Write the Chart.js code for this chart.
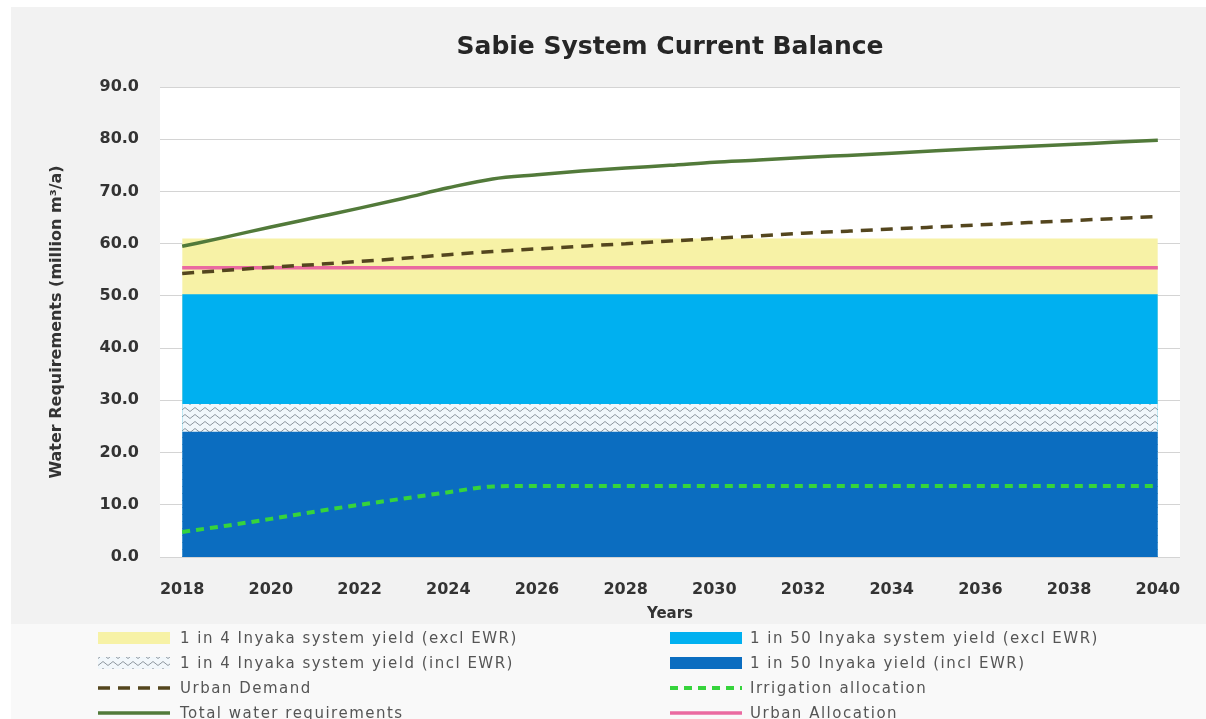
<!DOCTYPE html>
<html>
<head>
<meta charset="utf-8">
<script src="https://cdn.jsdelivr.net/npm/chart.js@4.4.1/dist/chart.umd.min.js"></script>
<style>
html,body{margin:0;padding:0;background:#fff;}
#wrap{position:relative;width:1206px;height:719px;overflow:hidden;}
#c{position:absolute;left:0;top:0;}
.lg{position:absolute;height:20px;display:flex;align-items:center;font-family:"DejaVu Sans",sans-serif;font-size:15px;letter-spacing:1.5px;color:#555;white-space:nowrap;}
.lg canvas{display:block;}
</style>
</head>
<body>
<div id="wrap">
<canvas id="c" width="1206" height="719"></canvas>
<div id="legend"></div>
</div>
<script>
// ---------- data ----------
const years = ['2018','2019','2020','2021','2022','2023','2024','2025','2026','2027','2028','2029','2030','2031','2032','2033','2034','2035','2036','2037','2038','2039','2040'];
const yTicks = [0, 10, 20, 30, 40, 50, 60, 70, 80, 90];

const yield1in4Excl  = [61.0,61.0,61.0,61.0,61.0,61.0,61.0,61.0,61.0,61.0,61.0,61.0,61.0,61.0,61.0,61.0,61.0,61.0,61.0,61.0,61.0,61.0,61.0];
const yield1in50Excl = [50.3,50.3,50.3,50.3,50.3,50.3,50.3,50.3,50.3,50.3,50.3,50.3,50.3,50.3,50.3,50.3,50.3,50.3,50.3,50.3,50.3,50.3,50.3];
const yield1in4Incl  = [29.3,29.3,29.3,29.3,29.3,29.3,29.3,29.3,29.3,29.3,29.3,29.3,29.3,29.3,29.3,29.3,29.3,29.3,29.3,29.3,29.3,29.3,29.3];
const yield1in50Incl = [24.0,24.0,24.0,24.0,24.0,24.0,24.0,24.0,24.0,24.0,24.0,24.0,24.0,24.0,24.0,24.0,24.0,24.0,24.0,24.0,24.0,24.0,24.0];
const urbanDemand    = [54.3,54.9,55.5,56.0,56.6,57.2,57.9,58.5,59.0,59.5,60.0,60.5,61.0,61.5,62.0,62.4,62.8,63.2,63.6,64.0,64.4,64.8,65.2];
const irrigationAlloc= [4.8,6.0,7.3,8.7,10.0,11.2,12.4,13.5,13.6,13.6,13.6,13.6,13.6,13.6,13.6,13.6,13.6,13.6,13.6,13.6,13.6,13.6,13.6];
const totalWater     = [59.5,61.3,63.2,65.0,66.8,68.7,70.7,72.4,73.2,73.9,74.5,75.0,75.6,76.0,76.5,76.9,77.3,77.8,78.2,78.6,79.0,79.4,79.8];
const urbanAlloc     = [55.4,55.4,55.4,55.4,55.4,55.4,55.4,55.4,55.4,55.4,55.4,55.4,55.4,55.4,55.4,55.4,55.4,55.4,55.4,55.4,55.4,55.4,55.4];

const labels = {
  y4ex: '1 in 4 Inyaka system yield (excl EWR)',
  y50ex: '1 in 50 Inyaka system yield (excl EWR)',
  y4in: '1 in 4 Inyaka system yield (incl EWR)',
  y50in: '1 in 50 Inyaka yield (incl EWR)',
  ud: 'Urban Demand',
  ir: 'Irrigation allocation',
  tw: 'Total water requirements',
  ua: 'Urban Allocation'
};

// ---------- pattern ----------
function zigzag(ctx) {
  const t = document.createElement('canvas');
  t.width = 10; t.height = 7;
  const g = t.getContext('2d');
  g.fillStyle = '#f1f7fb';
  g.fillRect(0, 0, 10, 7);
  g.strokeStyle = '#8e979f';
  g.lineWidth = 1;
  g.beginPath();
  g.moveTo(0, 5.5); g.lineTo(5, 1.5); g.lineTo(10, 5.5);
  g.stroke();
  return ctx.createPattern(t, 'repeat');
}

const cv = document.getElementById('c');
const ctx = cv.getContext('2d');

const areaBase = {type: 'line', fill: 'origin', borderWidth: 0, borderColor: 'rgba(0,0,0,0)', pointRadius: 0, tension: 0};
const lineBase = {type: 'line', fill: false, pointRadius: 0, borderWidth: 3.5, cubicInterpolationMode: 'monotone', borderCapStyle: 'butt'};

const datasets = [
  Object.assign({}, areaBase, {label: labels.y4ex, data: yield1in4Excl, backgroundColor: '#f7f2a6', order: 9}),
  Object.assign({}, areaBase, {label: labels.y50ex, data: yield1in50Excl, backgroundColor: '#00b0f0', order: 8}),
  Object.assign({}, areaBase, {label: labels.y4in, data: yield1in4Incl, backgroundColor: zigzag(ctx), order: 7}),
  Object.assign({}, areaBase, {label: labels.y50in, data: yield1in50Incl, backgroundColor: '#0b6dc0', order: 6}),
  Object.assign({}, lineBase, {label: labels.ud, data: urbanDemand, borderColor: '#54461e', borderDash: [12, 8], order: 2}),
  Object.assign({}, lineBase, {label: labels.ir, data: irrigationAlloc, borderColor: '#36d43c', borderWidth: 4, borderDash: [8, 6], order: 4}),
  Object.assign({}, lineBase, {label: labels.tw, data: totalWater, borderColor: '#527a3a', order: 1}),
  Object.assign({}, lineBase, {label: labels.ua, data: urbanAlloc, borderColor: '#ea6aa0', order: 3})
];

const bgPlugin = {
  id: 'bg',
  beforeDraw(chart) {
    const c = chart.ctx, w = chart.width, h = chart.height, a = chart.chartArea;
    c.save();
    c.fillStyle = '#ffffff';
    c.fillRect(0, 0, w, h);
    c.fillStyle = '#f2f2f2';
    c.fillRect(11, 7, w - 11, h - 7);
    c.fillStyle = '#f9f9f9';
    c.fillRect(11, 624, w - 11, h - 624);
    c.fillStyle = '#ffffff';
    c.fillRect(a.left, a.top, a.right - a.left, a.bottom - a.top);
    c.restore();
  }
};

const tickFont = {family: 'DejaVu Sans', size: 16, weight: 'bold', lineHeight: 1.2};

const chart = new Chart(ctx, {
  type: 'line',
  data: {labels: years, datasets: datasets},
  options: {
    responsive: false,
    animation: false,
    devicePixelRatio: 1,
    layout: {padding: {top: 8, left: 10, right: 26, bottom: 96}},
    plugins: {
      legend: {display: false},
      tooltip: {enabled: false},
      title: {
        display: true,
        text: 'Sabie System Current Balance',
        fullSize: false,
        color: '#262626',
        font: {family: 'DejaVu Sans', size: 25, weight: 'bold', lineHeight: 1.2},
        padding: {top: 24, bottom: 25}
      }
    },
    scales: {
      x: {
        offset: true,
        grid: {display: false, drawTicks: false},
        border: {display: false},
        ticks: {
          autoSkip: false, maxRotation: 0, minRotation: 0, padding: 23,
          color: '#333', font: tickFont,
          callback: function (v, i) { return i % 2 === 0 ? this.getLabelForValue(v) : ''; }
        },
        title: {display: true, text: 'Years', color: '#333', font: {family: 'DejaVu Sans', size: 15, weight: 'bold', lineHeight: 1.2}, padding: {top: 0, bottom: 0}},
        afterFit: function (s) { s.height = 66; }
      },
      y: {
        min: yTicks[0],
        max: yTicks[yTicks.length - 1],
        afterBuildTicks: function (s) { s.ticks = yTicks.map(v => ({value: v})); },
        grid: {color: '#d4d4d4', lineWidth: 1, drawTicks: false},
        border: {display: false},
        ticks: {padding: 21, color: '#333', font: tickFont, callback: v => Number(v).toFixed(1)},
        title: {display: true, text: 'Water Requirements (million m³/a)', color: '#333', font: {family: 'DejaVu Sans', size: 16, weight: 'bold', lineHeight: 1.2}, padding: {top: 37, bottom: 0}},
        afterFit: function (s) { s.width = 150; }
      }
    }
  },
  plugins: [bgPlugin]
});

// ---------- HTML legend (built from the chart datasets) ----------
const legendCols = [
  {swatchX: 98, textGap: 10, items: [labels.y4ex, labels.y4in, labels.ud, labels.tw]},
  {swatchX: 670, textGap: 8, items: [labels.y50ex, labels.y50in, labels.ir, labels.ua]}
];
const rowY = [638, 663, 688, 713];
const legendEl = document.getElementById('legend');
legendCols.forEach(col => {
  col.items.forEach((lab, r) => {
    const ds = chart.data.datasets.find(d => d.label === lab);
    const item = document.createElement('div');
    item.className = 'lg';
    item.style.left = col.swatchX + 'px';
    item.style.top = (rowY[r] - 10) + 'px';
    const sw = document.createElement('canvas');
    sw.width = 72; sw.height = 20;
    sw.style.marginRight = col.textGap + 'px';
    const g = sw.getContext('2d');
    if (ds.fill) {
      g.fillStyle = (ds.backgroundColor instanceof CanvasPattern) ? zigzag(g) : ds.backgroundColor;
      g.fillRect(0, 4, 72, 12);
    } else {
      g.strokeStyle = ds.borderColor;
      g.lineWidth = ds.borderWidth;
      g.setLineDash(ds.borderDash || []);
      g.beginPath(); g.moveTo(0, 10); g.lineTo(72, 10); g.stroke();
    }
    item.appendChild(sw);
    const t = document.createElement('span');
    t.textContent = lab;
    item.appendChild(t);
    legendEl.appendChild(item);
  });
});
</script>
</body>
</html>
